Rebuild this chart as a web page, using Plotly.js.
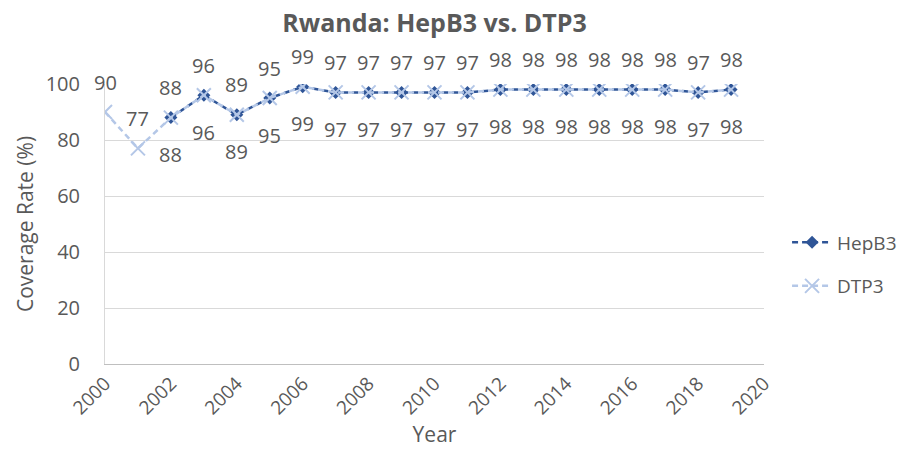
<!DOCTYPE html>
<html><head><meta charset="utf-8">
<script src="https://cdn.plot.ly/plotly-3.0.1.min.js"></script>
<style>body{margin:0}#c{width:914px;height:472px}</style>
</head><body><div id="c"></div>
<script>
const hepYears = [2002,2003,2004,2005,2006,2007,2008,2009,2010,2011,2012,2013,2014,2015,2016,2017,2018,2019];
const hepB3 = [88,96,89,95,99,97,97,97,97,97,98,98,98,98,98,98,97,98];
const dtpYears = [2000,2001,2002,2003,2004,2005,2006,2007,2008,2009,2010,2011,2012,2013,2014,2015,2016,2017,2018,2019];
const dtp3 = [90,77,88,96,89,95,99,97,97,97,97,97,98,98,98,98,98,98,97,98];
const xTicks = [2000,2002,2004,2006,2008,2010,2012,2014,2016,2018,2020];
const yTicks = [0,20,40,60,80,100];

const txt = '#595959';
const font = 'Open Sans, Noto Sans, sans-serif';
const traces = [
  {x: hepYears, y: hepB3, name: 'HepB3', legendgroup: 'a', type: 'scatter', mode: 'lines+markers',
   line: {color: '#2F5597', width: 2.5, dash: '6px,4px'},
   marker: {symbol: 'diamond', size: 10, color: '#2F5597'}},
  {x: dtpYears, y: dtp3, name: 'DTP3', legendgroup: 'b', type: 'scatter', mode: 'lines+markers',
   line: {color: '#B4C7E7', width: 2.5, dash: '6px,4px'},
   marker: {symbol: 'x-thin', size: 14, color: '#B4C7E7', line: {color: '#B4C7E7', width: 2}}}
];
const anns = [];
hepYears.forEach((yr, i) => anns.push({x: yr, y: hepB3[i], text: String(hepB3[i]), showarrow: false,
  xref: 'x', yref: 'y', yshift: -37, font: {size: 20, color: txt, family: font}}));
dtpYears.forEach((yr, i) => anns.push({x: yr, y: dtp3[i], text: String(dtp3[i]), showarrow: false,
  xref: 'x', yref: 'y', yshift: 30, font: {size: 20, color: txt, family: font}}));

const layout = {
  width: 914, height: 472,
  margin: {l: 105, r: 146, t: 84, b: 108},
  paper_bgcolor: '#fff', plot_bgcolor: '#fff',
  font: {family: font, color: txt, size: 20},
  title: {text: '<b>Rwanda: HepB3 vs. DTP3</b>', x: 0.5, xanchor: 'center', xref: 'paper', y: 0.95, yanchor: 'middle',
          font: {size: 25, color: txt, family: font}},
  annotations: anns,
  xaxis: {range: [2000, 2020], tickvals: xTicks, ticktext: xTicks.map(String), tickangle: -45,
          showgrid: false, zeroline: false, showline: true, linecolor: '#BFBFBF', linewidth: 1,
          ticks: '', tickfont: {size: 19, color: txt},
          title: {text: 'Year', font: {size: 21, color: txt}, standoff: 8}},
  yaxis: {range: [0, 100], tickvals: yTicks, ticktext: yTicks.map(String),
          showgrid: true, gridcolor: '#D9D9D9', gridwidth: 1, zeroline: false,
          showline: true, linecolor: '#D9D9D9', ticks: '', ticklabelstandoff: 20, tickfont: {size: 20, color: txt},
          title: {text: 'Coverage Rate (%)', font: {size: 21, color: txt}, standoff: 6}},
  showlegend: true,
  legend: {x: 1.035, xanchor: 'left', y: 0.356, yanchor: 'middle', font: {size: 19, color: txt},
           tracegroupgap: 16, itemwidth: 40}
};
Plotly.newPlot('c', traces, layout, {displayModeBar: false, staticPlot: true});
</script></body></html>
